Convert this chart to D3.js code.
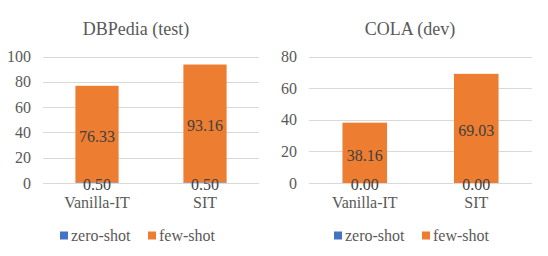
<!DOCTYPE html>
<html>
<head>
<meta charset="utf-8">
<script src="https://cdn.jsdelivr.net/npm/d3@7"></script>
<style>
  body { margin: 0; background: #fff; }
  svg { display: block; }
  svg text { font-family: 'Liberation Serif', 'Times New Roman', serif !important; }
</style>
</head>
<body>
<div id="chart"></div>
<script>
// Data
const categories = ['Vanilla-IT', 'SIT'];
const seriesNames = ['zero-shot', 'few-shot'];
const seriesColors = ['#4472C4', '#ED7D31'];

const dbpediaZero = [0.50, 0.50];
const dbpediaFew = [76.33, 93.16];
const dbpediaTicks = [0, 20, 40, 60, 80, 100];

const colaZero = [0.00, 0.00];
const colaFew = [38.16, 69.03];
const colaTicks = [0, 20, 40, 60, 80];

const panels = [
    { title: 'DBPedia (test)', zero: dbpediaZero, few: dbpediaFew, ticks: dbpediaTicks,
      offset: 0, left: 43, right: 259 },
    { title: 'COLA (dev)', zero: colaZero, few: colaFew, ticks: colaTicks,
      offset: 274, left: 35, right: 258 }
];

const W = 548, H = 256;
const plotTop = 56.5, plotBottom = 183;
const textGray = '#595959';

const svg = d3.select('#chart')
    .append('svg')
    .attr('width', W)
    .attr('height', H);

panels.forEach(p => {
    const g = svg.append('g')
        .attr('transform', `translate(${p.offset},0)`);

    const xScale = d3.scaleBand()
        .domain(categories)
        .range([p.left, p.right])
        .paddingInner(0.6)
        .paddingOuter(0.3);

    const yScale = d3.scaleLinear()
        .domain([0, d3.max(p.ticks)])
        .range([plotBottom, plotTop]);

    // Title
    g.append('text')
        .attr('x', 136)
        .attr('y', 35)
        .attr('text-anchor', 'middle')
        .attr('font-size', '18px')
        .attr('fill', textGray)
        .text(p.title);

    // Gridlines
    g.selectAll('.grid')
        .data(p.ticks)
        .enter()
        .append('line')
        .attr('x1', p.left)
        .attr('x2', p.right)
        .attr('y1', d => Math.round(yScale(d)) + 0.5)
        .attr('y2', d => Math.round(yScale(d)) + 0.5)
        .attr('stroke', '#d9d9d9')
        .attr('stroke-width', 1);

    // Y axis (labels only)
    const yAxis = g.append('g')
        .attr('transform', `translate(${p.left - 12},0)`)
        .call(d3.axisLeft(yScale).tickValues(p.ticks).tickSize(0).tickPadding(0));
    yAxis.select('.domain').remove();
    yAxis.selectAll('text')
        .attr('font-size', '16px')
        .attr('fill', textGray);

    // Stacked series
    const rows = categories.map((c, i) => ({ cat: c, zero: p.zero[i], few: p.few[i] }));
    const stacked = d3.stack().keys(['zero', 'few'])(rows);

    stacked.forEach((layer, si) => {
        g.selectAll('.bar' + si)
            .data(layer)
            .enter()
            .append('rect')
            .attr('x', d => xScale(d.data.cat))
            .attr('y', d => yScale(d[1]))
            .attr('width', xScale.bandwidth())
            .attr('height', d => yScale(d[0]) - yScale(d[1]))
            .attr('fill', seriesColors[si]);
    });

    // Value labels, centred in each segment
    stacked.forEach(layer => {
        g.selectAll('.lbl' + layer.key)
            .data(layer)
            .enter()
            .append('text')
            .attr('x', d => xScale(d.data.cat) + xScale.bandwidth() / 2)
            .attr('y', d => yScale((d[0] + d[1]) / 2))
            .attr('dy', layer.key === 'zero' ? '0.45em' : '0.5em')
            .attr('text-anchor', 'middle')
            .attr('font-size', '16px')
            .attr('fill', '#404040')
            .text(d => d.data[layer.key].toFixed(2));
    });

    // Category labels
    g.selectAll('.cat')
        .data(categories)
        .enter()
        .append('text')
        .attr('x', d => xScale(d) + xScale.bandwidth() / 2)
        .attr('y', 208)
        .attr('text-anchor', 'middle')
        .attr('font-size', '16px')
        .attr('fill', textGray)
        .text(d => d);

    // Legend
    const legend = g.append('g').attr('transform', 'translate(60,236)');
    const item = legend.selectAll('.leg')
        .data(seriesNames)
        .enter()
        .append('g')
        .attr('transform', (d, i) => `translate(${i * 88},0)`);
    item.append('rect')
        .attr('x', 0)
        .attr('y', -4.5)
        .attr('width', 8)
        .attr('height', 8)
        .attr('fill', (d, i) => seriesColors[i]);
    item.append('text')
        .attr('x', 11)
        .attr('y', 5)
        .attr('font-size', '16px')
        .attr('fill', textGray)
        .text(d => d);
});
</script>
</body>
</html>
